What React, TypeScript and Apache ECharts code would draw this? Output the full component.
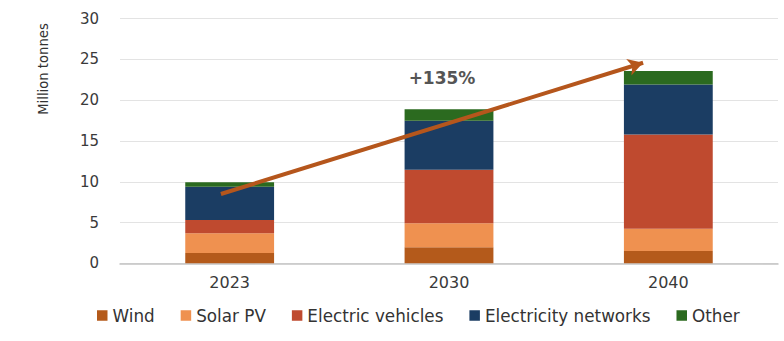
import React, { useEffect, useRef } from "react";
import * as echarts from "echarts";

const categories = ["2023", "2030", "2040"];
const seriesNames = ["Wind", "Solar PV", "Electric vehicles", "Electricity networks", "Other"];
const wind = [1.26, 1.96, 1.5];
const solarPV = [2.42, 2.94, 2.74];
const electricVehicles = [1.62, 6.57, 11.56];
const electricityNetworks = [4.1, 6.0, 6.13];
const other = [0.55, 1.42, 1.67];
const colors = ["#b45a1b", "#ef9150", "#bf4a2f", "#1b3d63", "#2b6a1f"];
// annotation arrow endpoints: [category position, value]
const arrowStart = [-0.04, 8.5];
const arrowEnd = [1.885, 24.6];
const growthLabel = "+135%";

const FONT = "'DejaVu Sans', sans-serif";

export default function App() {
  const ref = useRef<HTMLDivElement>(null);
  useEffect(() => {
    if (!ref.current) return;
    const chart = echarts.init(ref.current, null, { renderer: "svg" });
    const values = [wind, solarPV, electricVehicles, electricityNetworks, other];
    const barSeries = seriesNames.map((name, i) => ({
      name,
      type: "bar",
      stack: "total",
      barWidth: "40.5%",
      data: values[i],
      itemStyle: { color: colors[i] },
      emphasis: { disabled: true },
    }));
    chart.setOption({
      animation: false,
      textStyle: { fontFamily: FONT },
      grid: { left: 120, right: 6, top: 18.7, bottom: 77.7 },
      legend: {
        data: seriesNames,
        left: 92,
        top: 302,
        icon: "rect",
        itemWidth: 10.5,
        itemHeight: 10.5,
        itemGap: 26,
        textStyle: { fontSize: 16.8, color: "#333", fontFamily: FONT },
      },
      xAxis: [
        {
          type: "category",
          data: categories,
          axisTick: { show: false },
          axisLine: { lineStyle: { color: "#c4c4c4", width: 1.5 } },
          axisLabel: { fontSize: 16, color: "#3a3a3a", margin: 11, fontFamily: FONT },
        },
        {
          type: "value",
          min: -0.5,
          max: 2.5,
          show: false,
        },
      ],
      yAxis: {
        type: "value",
        min: 0,
        max: 30,
        interval: 5,
        axisLabel: { fontSize: 15, color: "#3a3a3a", margin: 21, fontFamily: FONT },
        splitLine: { lineStyle: { color: "#e3e3e3", width: 1 } },
        axisLine: { show: false },
        axisTick: { show: false },
      },
      series: [
        ...barSeries,
        {
          type: "scatter",
          xAxisIndex: 1,
          symbolSize: 0,
          data: [arrowStart, arrowEnd],
          silent: true,
          markLine: {
            silent: true,
            symbol: ["none", "arrow"],
            symbolSize: [13, 15],
            label: { show: false },
            lineStyle: { color: "#b5561c", width: 4, type: "solid" },
            emphasis: { disabled: true },
            data: [[{ coord: arrowStart }, { coord: arrowEnd }]],
          },
        },
      ],
      graphic: [
        {
          type: "text",
          x: 43.5,
          y: 69,
          rotation: Math.PI / 2,
          style: {
            text: "Million tonnes",
            fontSize: 13.2,
            fill: "#333",
            align: "center",
            verticalAlign: "middle",
            fontFamily: FONT,
          },
        },
        {
          type: "text",
          x: 442,
          y: 78,
          style: {
            text: growthLabel,
            fontSize: 17,
            fontWeight: "bold",
            fill: "#555",
            align: "center",
            verticalAlign: "middle",
            fontFamily: FONT,
          },
        },
      ],
    });
    return () => chart.dispose();
  }, []);
  return <div ref={ref} style={{ width: 784, height: 341, position: "absolute", left: 0, top: 0 }} />;
}
